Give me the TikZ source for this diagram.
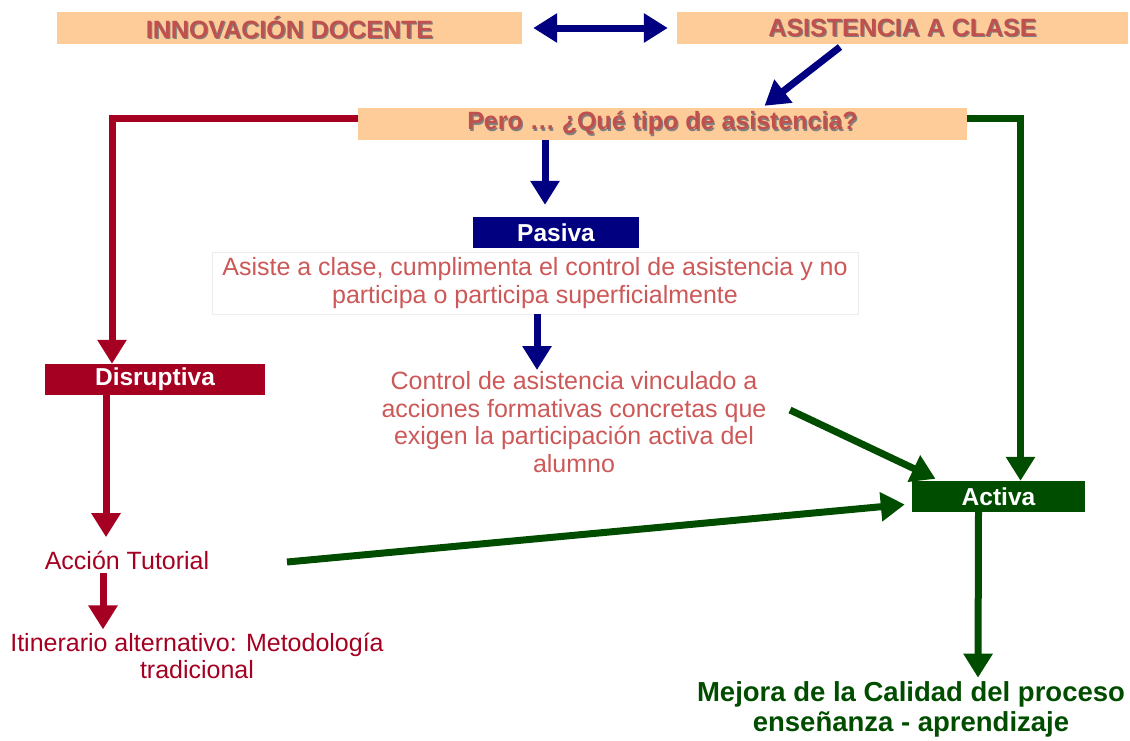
\documentclass[tikz,border=0pt]{standalone}
\usepackage{fontspec}
\setmainfont{Liberation Sans}
\usetikzlibrary{arrows.meta}

\definecolor{peach}{RGB}{253,204,153}
\definecolor{titlered}{RGB}{192,80,77}
\definecolor{softred}{RGB}{204,88,88}
\definecolor{crimson}{RGB}{165,0,33}
\definecolor{navyblue}{RGB}{0,0,128}
\definecolor{darkgreen}{RGB}{0,77,0}

\newcommand{\shadowed}[1]{\rlap{\hspace{1.2pt}\raisebox{-1.2pt}{\color{black!50}#1}}#1}

\tikzset{
  >={Triangle[length=24pt,width=28pt]},
  peachbox/.style={fill=peach, minimum height=32pt, inner sep=0pt,
    font=\fontsize{25}{28}\selectfont\bfseries, text=titlered},
  tagbox/.style={minimum height=31pt, inner sep=0pt, text=white,
    font=\fontsize{24.5}{28}\selectfont\bfseries},
  note/.style={align=center, font=\fontsize{25}{27.5}\selectfont, text=softred},
  fat/.style={line width=7pt, ->},
}

\begin{document}
\begin{tikzpicture}[x=1pt, y=-1pt]
\useasboundingbox (0,0) rectangle (1130,740);

% boxes
\node[peachbox, minimum width=465pt] (innov) at (289.5,28) {\shadowed{INNOVACIÓN DOCENTE}};
\node[peachbox, minimum width=451pt] (asist) at (902.5,28) {\shadowed{ASISTENCIA A CLASE}};
\node[peachbox, minimum width=609pt] (pero) at (662.5,124) {\shadowed{Pero … ¿Qué tipo de asistencia?}};
\node[tagbox, fill=navyblue, minimum width=166pt] (pasiva) at (556,232.5) {Pasiva};
\node[note, draw=gray!15, fill=white, minimum width=646pt, minimum height=62pt, inner sep=0pt] (asiste) at (535,283)
  {Asiste a clase, cumplimenta el control de asistencia y no\\participa o participa superficialmente};
\node[note] (ctrl) at (574,422)
  {Control de asistencia vinculado a\\acciones formativas concretas que\\exigen la participación activa del\\alumno};
\node[tagbox, fill=crimson, minimum width=220pt] (disr) at (155,379.5) {Disruptiva};
\node[tagbox, fill=darkgreen, minimum width=173pt] (activa) at (998.5,496.5) {Activa};
\node[note, text=crimson] (accion) at (127,560) {Acción Tutorial};
\node[note, text=crimson] (itin) at (197,656) {Itinerario alternativo: Metodología\\tradicional};
\node[note, text=darkgreen, font=\fontsize{27.5}{30}\selectfont\bfseries] (mejora) at (911,709)
  {Mejora de la Calidad del proceso\\enseñanza - aprendizaje};

\coordinate (fromasist) at (840,47);
\coordinate (fromctrl) at (790,410);
\coordinate (fromaccion) at (287,562);

% connectors
\draw[fat, navyblue, <->] ([xshift=11pt]innov.east) -- ([xshift=-9pt]asist.west);
\draw[fat, navyblue] (fromasist) -- ([xshift=102pt,yshift=2pt]pero.north);
\draw[fat, navyblue] ([xshift=-117.5pt]pero.south) -- ([xshift=-11pt,yshift=12pt]pasiva.north);
\draw[fat, navyblue] ([xshift=2pt]asiste.south) -- ([xshift=2pt]asiste.south |- 0,370);
\draw[fat, crimson] ([yshift=6pt]pero.west) -| ([xshift=-43pt]disr.north);
\draw[fat, crimson] ([xshift=-49pt]disr.south) -- ([xshift=-21pt,yshift=10pt]accion.north);
\draw[fat, crimson] ([xshift=-24pt]accion.south) -- ([xshift=-94pt]itin.north);
\draw[fat, darkgreen] ([yshift=6pt]pero.east) -| ([xshift=22pt]activa.north);
\draw[fat, darkgreen] (fromctrl) -- ([xshift=-63pt,yshift=2pt]activa.north);
\draw[fat, darkgreen] (fromaccion) -- ([xshift=-7pt,yshift=-8pt]activa.west);
\draw[fat, darkgreen] ([xshift=-20pt]activa.south) -- ([xshift=67pt]mejora.north);
\end{tikzpicture}
\end{document}
